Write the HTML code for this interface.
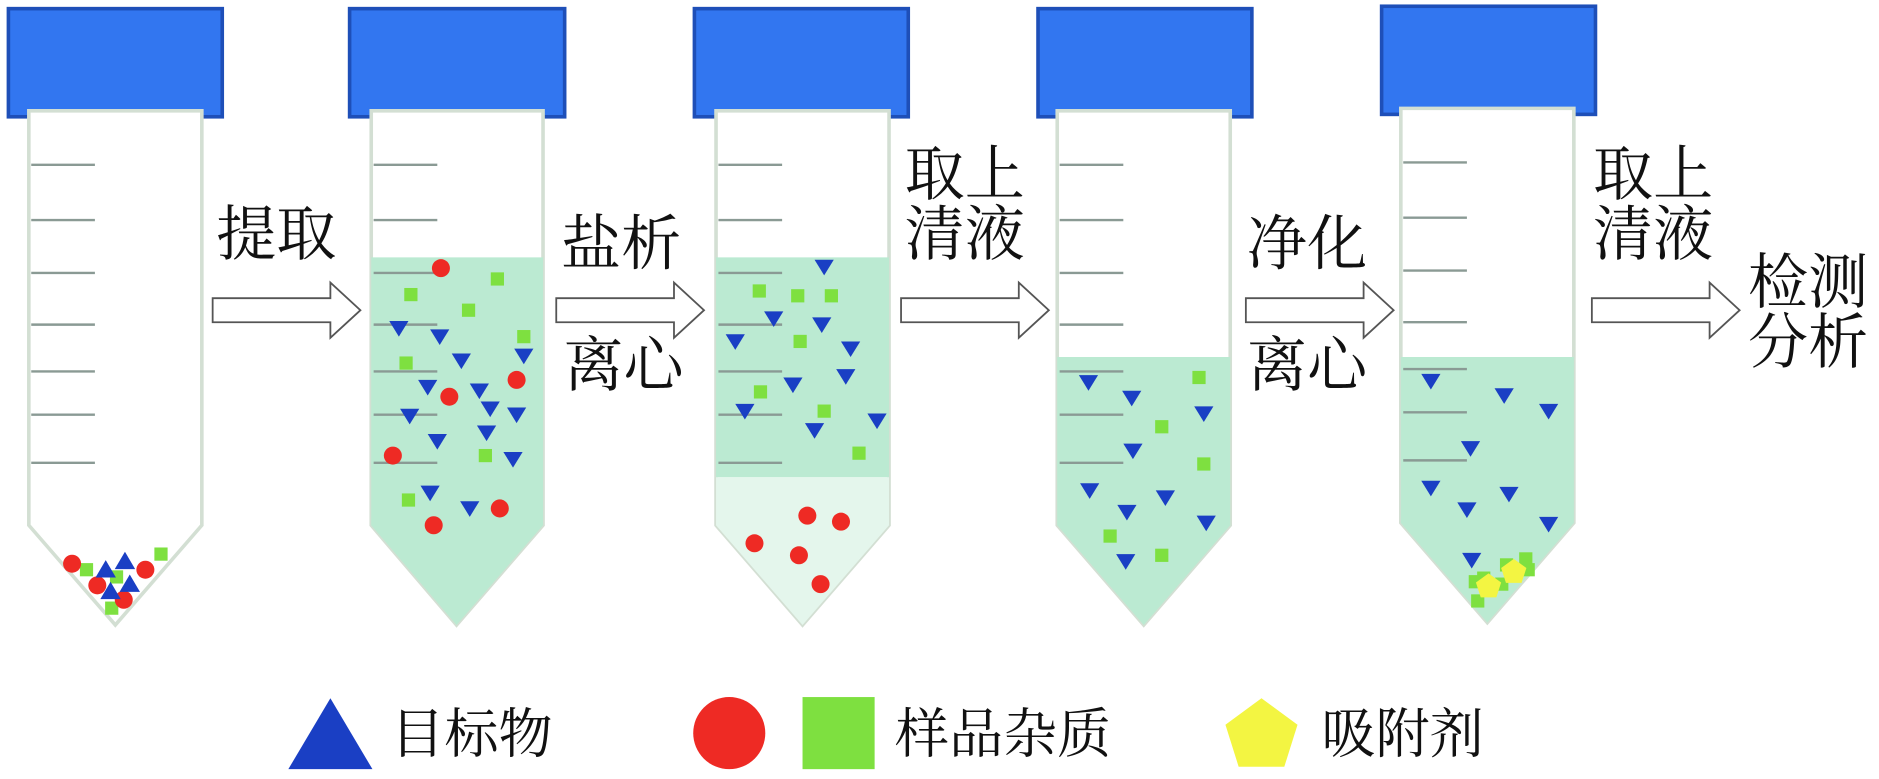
<!DOCTYPE html>
<html><head><meta charset="utf-8"><style>
html,body{margin:0;padding:0;background:#fff;}
svg{display:block}
text{font-family:"Noto Serif CJK SC","Liberation Serif",serif;fill:#111;}
</style></head><body>
<svg width="1879" height="779" viewBox="0 0 1564 648" xmlns="http://www.w3.org/2000/svg">
<defs>
<g id="grad" stroke="#8a9a94" stroke-width="2">
<line x1="0" y1="137" x2="53" y2="137"/><line x1="0" y1="183" x2="53" y2="183"/><line x1="0" y1="227" x2="53" y2="227"/><line x1="0" y1="270" x2="53" y2="270"/><line x1="0" y1="309" x2="53" y2="309"/><line x1="0" y1="345" x2="53" y2="345"/><line x1="0" y1="385" x2="53" y2="385"/>
</g>
<polygon id="dt" points="-8,-6 8,-6 0,7" fill="#1a3fc4"/>
<polygon id="ut" points="-8.5,6.5 8.5,6.5 0,-8" fill="#1a3fc4"/>
<rect id="gs" x="-5.5" y="-5.5" width="11" height="11" fill="#7ee040"/>
<circle id="rc" r="7.5" fill="#ee2a24"/>
<polygon id="pt" points="0,-11 10.5,-3.4 6.5,9 -6.5,9 -10.5,-3.4" fill="#f3f542"/>
<g id="arrow"><polygon points="0,248 98,248 98,235 123,258 98,281 98,268 0,268" fill="#fff" stroke="#555" stroke-width="1.5"/></g>
</defs>

<rect x="7" y="7" width="178" height="90" fill="#3276f0" stroke="#1e4fb8" stroke-width="3"/>
<polygon points="24,92 168,92 168,437 96,520 24,437" fill="#fff" stroke="#d3dfd3" stroke-width="3"/>
<use href="#grad" x="26"/>
<rect x="291" y="7" width="179" height="90" fill="#3276f0" stroke="#1e4fb8" stroke-width="3"/>
<polygon points="309,92 452,92 452,437 380,520 309,437" fill="#fff" stroke="#d3dfd3" stroke-width="3"/>
<polygon points="309,214 452,214 452,437 380,520 309,437" fill="#bbead2"/>
<use href="#grad" x="311"/>
<rect x="578" y="7" width="178" height="90" fill="#3276f0" stroke="#1e4fb8" stroke-width="3"/>
<polygon points="596,92 740,92 740,437 668,520 596,437" fill="#fff" stroke="#d3dfd3" stroke-width="3"/>
<polygon points="596,214 740,214 740,397 596,397" fill="#bbead2"/>
<polygon points="596,397 740,397 740,437 668,520 596,437" fill="#e4f6ec"/>
<use href="#grad" x="598"/>
<rect x="864" y="7" width="178" height="90" fill="#3276f0" stroke="#1e4fb8" stroke-width="3"/>
<polygon points="880,92 1024,92 1024,437 952,520 880,437" fill="#fff" stroke="#d3dfd3" stroke-width="3"/>
<polygon points="880,297 1024,297 1024,437 952,520 880,437" fill="#bbead2"/>
<use href="#grad" x="882"/>
<rect x="1150" y="5" width="178" height="90" fill="#3276f0" stroke="#1e4fb8" stroke-width="3"/>
<polygon points="1166,90 1310,90 1310,435 1238,518 1166,435" fill="#fff" stroke="#d3dfd3" stroke-width="3"/>
<polygon points="1166,297 1310,297 1310,435 1238,518 1166,435" fill="#bbead2"/>
<use href="#grad" x="1168" y="-2"/>

<use href="#gs" x="72" y="474"/><use href="#gs" x="97" y="480"/><use href="#gs" x="134" y="461"/><use href="#gs" x="93" y="506"/>
<use href="#rc" x="60" y="469"/><use href="#rc" x="81" y="487"/><use href="#rc" x="103" y="499"/><use href="#rc" x="121" y="474"/>
<use href="#ut" x="88" y="474"/><use href="#ut" x="104" y="467"/><use href="#ut" x="92" y="492"/><use href="#ut" x="108" y="486"/>

<g>
<use href="#rc" x="367" y="223"/><use href="#rc" x="374" y="330"/><use href="#rc" x="430" y="316"/><use href="#rc" x="327" y="379"/><use href="#rc" x="361" y="437"/><use href="#rc" x="416" y="423"/>
<use href="#gs" x="342" y="245"/><use href="#gs" x="414" y="232"/><use href="#gs" x="390" y="258"/><use href="#gs" x="436" y="280"/><use href="#gs" x="338" y="302"/><use href="#gs" x="404" y="379"/><use href="#gs" x="340" y="416"/>
<use href="#dt" x="332" y="273"/><use href="#dt" x="366" y="280"/><use href="#dt" x="384" y="300"/><use href="#dt" x="436" y="296"/><use href="#dt" x="399" y="325"/><use href="#dt" x="356" y="322"/><use href="#dt" x="408" y="340"/><use href="#dt" x="341" y="346"/><use href="#dt" x="430" y="345"/><use href="#dt" x="364" y="367"/><use href="#dt" x="405" y="360"/><use href="#dt" x="427" y="382"/><use href="#dt" x="358" y="410"/><use href="#dt" x="391" y="423"/>
</g>
<g>
<use href="#dt" x="686" y="222"/><use href="#dt" x="644" y="265"/><use href="#dt" x="684" y="270"/><use href="#dt" x="612" y="284"/><use href="#dt" x="708" y="290"/><use href="#dt" x="660" y="320"/><use href="#dt" x="704" y="313"/><use href="#dt" x="620" y="342"/><use href="#dt" x="678" y="358"/><use href="#dt" x="730" y="350"/>
<use href="#gs" x="632" y="242"/><use href="#gs" x="664" y="246"/><use href="#gs" x="692" y="246"/><use href="#gs" x="666" y="284"/><use href="#gs" x="633" y="326"/><use href="#gs" x="686" y="342"/><use href="#gs" x="715" y="377"/>
<use href="#rc" x="672" y="429"/><use href="#rc" x="700" y="434"/><use href="#rc" x="628" y="452"/><use href="#rc" x="665" y="462"/><use href="#rc" x="683" y="486"/>
</g>
<g>
<use href="#dt" x="906" y="318"/><use href="#dt" x="942" y="331"/><use href="#dt" x="1002" y="344"/><use href="#dt" x="943" y="375"/><use href="#dt" x="907" y="408"/><use href="#dt" x="970" y="414"/><use href="#dt" x="938" y="426"/><use href="#dt" x="1004" y="435"/><use href="#dt" x="937" y="467"/>
<use href="#gs" x="998" y="314"/><use href="#gs" x="967" y="355"/><use href="#gs" x="1002" y="386"/><use href="#gs" x="924" y="446"/><use href="#gs" x="967" y="462"/>
</g>
<g>
<use href="#dt" x="1191" y="317"/><use href="#dt" x="1252" y="329"/><use href="#dt" x="1289" y="342"/><use href="#dt" x="1224" y="373"/><use href="#dt" x="1191" y="406"/><use href="#dt" x="1221" y="424"/><use href="#dt" x="1256" y="411"/><use href="#dt" x="1289" y="436"/><use href="#dt" x="1225" y="466"/>
<use href="#gs" x="1235" y="481"/><use href="#gs" x="1254" y="470"/><use href="#gs" x="1270" y="465"/><use href="#gs" x="1272" y="474"/><use href="#gs" x="1230" y="500"/><use href="#gs" x="1250" y="486"/><use href="#gs" x="1228" y="484"/>
<use href="#pt" x="1239" y="488"/><use href="#pt" x="1260" y="476"/>
</g>

<use href="#arrow" x="177"/><use href="#arrow" x="463"/><use href="#arrow" x="750"/><use href="#arrow" x="1037"/><use href="#arrow" x="1325"/>

<g font-size="50">
<text x="180" y="212">提取</text>
<text x="467" y="220">盐析</text>
<text x="469" y="321">离心</text>
<text x="753" y="162">取上</text>
<text x="753" y="212">清液</text>
<text x="1038" y="220">净化</text>
<text x="1038" y="321">离心</text>
<text x="1326" y="162">取上</text>
<text x="1326" y="212">清液</text>
<text x="1455" y="252">检测</text>
<text x="1455" y="302">分析</text>
</g>

<polygon points="240,640 310,640 275,581" fill="#1a3fc4"/>
<text x="325" y="626" font-size="45">目标物</text>
<circle cx="607" cy="610" r="30" fill="#ee2a24"/>
<rect x="668" y="580" width="60" height="60" fill="#7ee040"/>
<text x="745" y="626" font-size="45">样品杂质</text>
<polygon points="1050,581 1080,603 1069,638 1031,638 1020,603" fill="#f3f542"/>
<text x="1100" y="626" font-size="45">吸附剂</text>
</svg>
</body></html>
